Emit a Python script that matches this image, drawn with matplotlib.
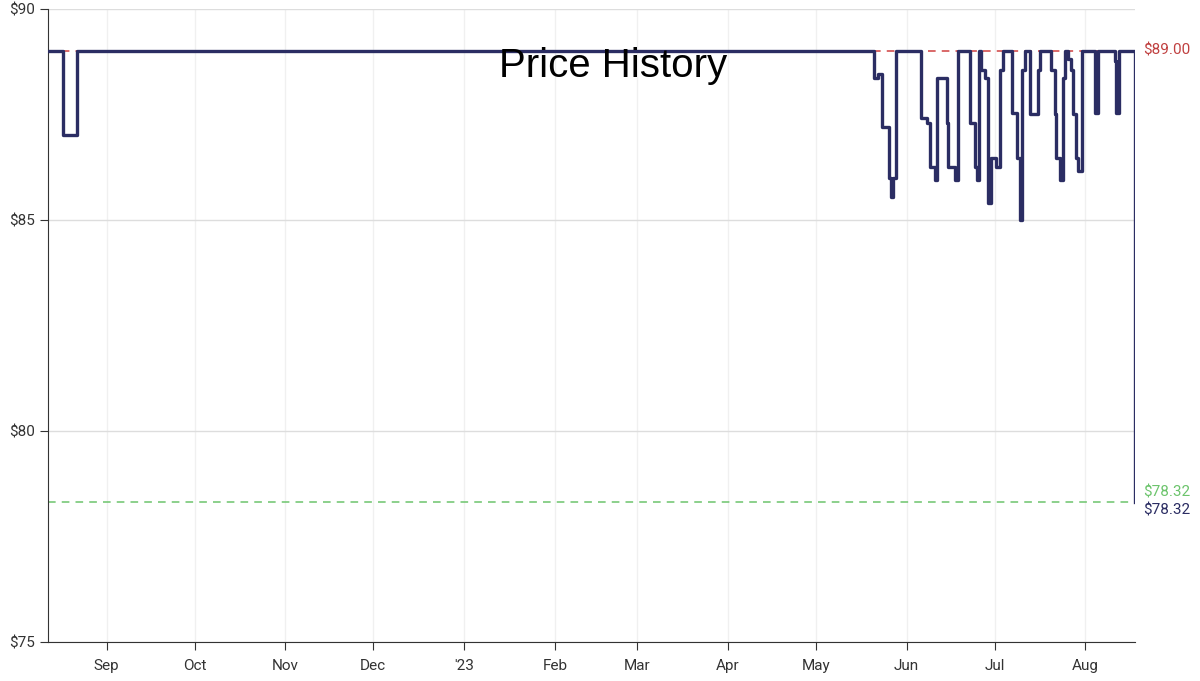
import matplotlib.pyplot as plt
import matplotlib.dates as mdates
import pandas as pd

plt.rcParams['font.family'] = ['Roboto', 'DejaVu Sans']

# price change points (step after)
dates = ["2022-08-12", "2022-08-17", "2022-08-22",
         "2023-05-21", "2023-05-22 08:00", "2023-05-23 16:00", "2023-05-26", "2023-05-26 20:00",
         "2023-05-27 10:00", "2023-05-28 05:00",
         "2023-06-06", "2023-06-07 20:00", "2023-06-08 22:00", "2023-06-10 14:00", "2023-06-11 10:00",
         "2023-06-14 20:00", "2023-06-15 02:00", "2023-06-17 10:00", "2023-06-18 14:00",
         "2023-06-22 12:00", "2023-06-24 05:00", "2023-06-25", "2023-06-25 14:00", "2023-06-26 12:00",
         "2023-06-27 16:00", "2023-06-28 20:00", "2023-06-29 22:00", "2023-07-01 14:00", "2023-07-02 20:00",
         "2023-07-03 22:00", "2023-07-06 20:00", "2023-07-08 12:00", "2023-07-09 14:00", "2023-07-10 12:00",
         "2023-07-11 12:00", "2023-07-13", "2023-07-15 22:00", "2023-07-16 10:00",
         "2023-07-20 10:00", "2023-07-21 14:00", "2023-07-22 02:00", "2023-07-23 08:00", "2023-07-24 10:00",
         "2023-07-25", "2023-07-26 02:00", "2023-07-27 05:00", "2023-07-27 20:00", "2023-07-28 17:00",
         "2023-07-29 12:00", "2023-07-31", "2023-08-04 05:00", "2023-08-05 07:00",
         "2023-08-11", "2023-08-11 14:00", "2023-08-12 12:00", "2023-08-17 20:00", "2023-08-18"]
prices = [89.0, 87.0, 89.0,
          88.36, 88.45, 87.2, 86.0, 85.55,
          86.0, 89.0,
          87.4, 87.3, 86.26, 85.95, 88.36,
          87.3, 86.26, 85.95, 89.0,
          87.3, 86.26, 85.95, 89.0, 88.55,
          88.36, 85.4, 86.46, 86.26, 88.55,
          89.0, 87.53, 86.46, 85.0, 88.55,
          89.0, 87.5, 88.55, 89.0,
          88.55, 87.5, 86.46, 85.95, 88.36,
          89.0, 88.8, 88.55, 87.5, 86.46,
          86.15, 89.0, 87.53, 89.0,
          88.75, 87.53, 89.0, 78.32, 78.32]

highest = 89.00
lowest = 78.32
current = 78.32

month_ticks = pd.date_range("2022-09-01", "2023-08-01", freq="MS")
month_labels = ["Sep", "Oct", "Nov", "Dec", "'23", "Feb", "Mar", "Apr", "May", "Jun", "Jul", "Aug"]

d = pd.to_datetime(dates, format="mixed")
x0, x1 = d[0], d[-1]

fig = plt.figure(figsize=(12, 6.81), dpi=100)
ax = fig.add_axes([0.04, 0.0573, 0.906, 0.93])

ax.axhline(highest, color="#d04040", ls=(0, (5, 4)), lw=1.1, zorder=2)
ax.axhline(lowest, color="#6cc46c", ls=(0, (5, 4)), lw=1.1, zorder=2)
ax.step(d, prices, where="post", color="#2b2d63", lw=2.4, zorder=3)

ax.set_xlim(x0, x1)
ax.set_ylim(75, 90)
ax.set_yticks([75, 80, 85, 90])
ax.set_yticklabels(["$75", "$80", "$85", "$90"])
ax.set_xticks(month_ticks)
ax.set_xticklabels(month_labels)
ax.tick_params(axis="x", length=6, color="#333333", labelsize=11, colors="#333333", pad=6)
ax.tick_params(axis="y", length=6, color="#333333", labelsize=11, colors="#333333")
ax.grid(axis="y", color="#dddddd", lw=1)
ax.grid(axis="x", color="#f0f0f0", lw=1)
for s in ["top", "right"]:
    ax.spines[s].set_visible(False)
for s in ["left", "bottom"]:
    ax.spines[s].set_color("#333333")

ax.text(1.007, highest, "$89.00", transform=ax.get_yaxis_transform(), color="#c04040",
        fontsize=11, va="center")
ax.text(1.007, lowest + 0.05, "$78.32", transform=ax.get_yaxis_transform(), color="#6cc46c",
        fontsize=11, va="bottom")
ax.text(1.007, current - 0.05, "$78.32", transform=ax.get_yaxis_transform(), color="#2b2d63",
        fontsize=11, va="top")

ax.text(0.52, 0.91, "Price History", transform=ax.transAxes, fontsize=29, ha="center",
        va="center", color="black", family=["Liberation Sans", "DejaVu Sans"])

fig.savefig("out.png", dpi=100)
